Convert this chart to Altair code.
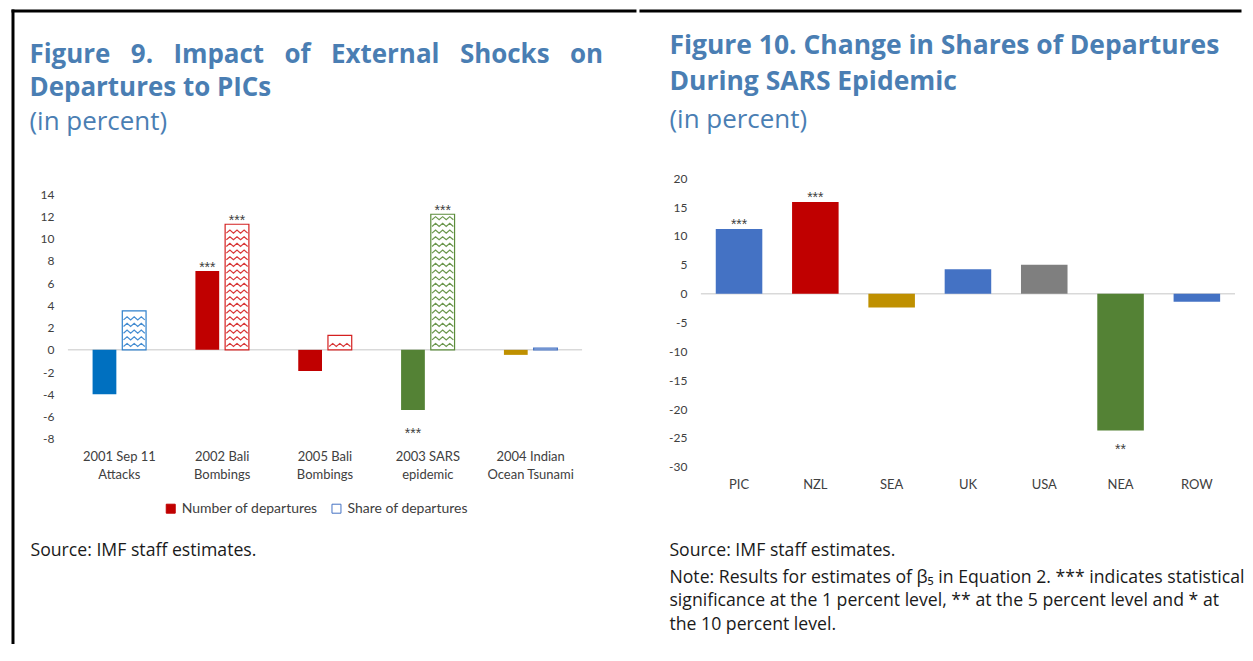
import altair as alt
import pandas as pd

# ---------------- Figure 9 data ----------------
events = ["2001 Sep 11|Attacks", "2002 Bali|Bombings", "2005 Bali|Bombings",
          "2003 SARS|epidemic", "2004 Indian|Ocean Tsunami"]
series = ["Number of departures", "Share of departures"]
number_vals = [-4.0, 7.1, -1.9, -5.4, -0.45]
share_vals = [3.5, 11.3, 1.3, 12.2, 0.15]
number_sig = ["", "***", "", "***", ""]
share_sig = ["", "***", "", "***", ""]
number_colors = ["#0070C0", "#C00000", "#C00000", "#548235", "#BF9000"]
share_colors = ["#2F80CC", "#D42020", "#D42020", "#5B8C3A", "#4472C4"]
fig9_ticks = [-8, -6, -4, -2, 0, 2, 4, 6, 8, 10, 12, 14]

# ---------------- Figure 10 data ----------------
regions = ["PIC", "NZL", "SEA", "UK", "USA", "NEA", "ROW"]
region_vals = [11.2, 15.9, -2.4, 4.25, 5.0, -23.7, -1.4]
region_sig = ["***", "***", "", "", "", "**", ""]
region_colors = ["#4472C4", "#C00000", "#BF9000", "#4472C4", "#7F7F7F", "#548235", "#4472C4"]
fig10_ticks = [-30, -25, -20, -15, -10, -5, 0, 5, 10, 15, 20]

TITLE_BLUE = "#4A7EB3"
TXT = "#404040"
AX_FONT = "Lato"
STAR_FONT = "Liberation Sans"
FOOT_FONT = "Open Sans"
TITLE_FONT = "Open Sans"
GAP = "\u00a0\u2009\u200a "
FOOT_SIZE = 17.7

# ---------------- Figure 9 ----------------
# both panels share the plot top; Figure 9's axis starts 16px lower, so its
# value domain extends a little above the last tick
W9, H9_core = 515, 245
px_unit = H9_core / (fig9_ticks[-1] - fig9_ticks[0])
H9 = H9_core + 16
y9_top = fig9_ticks[-1] + 16 / px_unit
pI, pO, pIo = 0.48, 0.24, 0.2

df9 = pd.DataFrame({
    "event": events * 2,
    "series": [series[0]] * 5 + [series[1]] * 5,
    "value": number_vals + share_vals,
    "sig": number_sig + share_sig,
    "color": number_colors + share_colors,
})
num9 = df9[df9.series == series[0]]
shr9 = df9[df9.series == series[1]]

x9 = alt.X("event:N", sort=events, title=None,
           scale=alt.Scale(paddingInner=pI, paddingOuter=pO),
           axis=alt.Axis(labelExpr="split(datum.label, '|')", labelAngle=0,
                         domain=False, ticks=False, grid=False, labelPadding=12,
                         labelLineHeight=18, labelFont=AX_FONT, labelFontSize=13,
                         labelColor=TXT))
xo9 = alt.XOffset("series:N", sort=series,
                  scale=alt.Scale(domain=series, paddingInner=pIo, paddingOuter=0))
y9_scale = alt.Scale(domain=[fig9_ticks[0], y9_top], nice=False)
y9_axis = alt.Axis(values=fig9_ticks, domain=False, ticks=False, grid=False,
                   labelOverlap=False, labelPadding=14, labelFont=AX_FONT,
                   labelFontSize=12, labelColor=TXT, labelExpr="toString(datum.value)")
y9 = alt.Y("value:Q", title=None, scale=y9_scale, axis=y9_axis)

zero9 = alt.Chart(pd.DataFrame({"value": [0]})).mark_rule(color="#D9D9D9", strokeWidth=1.5).encode(
    y=y9)
num_bars = alt.Chart(num9).mark_bar().encode(
    x=x9, xOffset=xo9, y=y9, fill=alt.Fill("color:N", scale=None))
shr_bars = alt.Chart(shr9).mark_bar(fill="white", strokeWidth=1.2).encode(
    x=x9, xOffset=xo9, y=y9, stroke=alt.Stroke("color:N", scale=None))
stars_pos9 = alt.Chart(df9).transform_filter("datum.value > 0 && datum.sig != ''").mark_text(
    baseline="alphabetic", dy=1, font=STAR_FONT, fontSize=14, color=TXT).encode(
    x=x9, xOffset=xo9, y=y9, text="sig:N")
stars_neg9 = alt.Chart(df9).transform_filter("datum.value < 0 && datum.sig != ''").mark_text(
    baseline="alphabetic", dy=28, font=STAR_FONT, fontSize=14, color=TXT).encode(
    x=x9, xOffset=xo9, y=y9, text="sig:N")

leg_props = dict(orient="none", legendX=96, legendY=324, direction="horizontal",
                 title=None, symbolType="square", symbolSize=81, symbolOpacity=1,
                 symbolStrokeWidth=1,
                 labelFont=AX_FONT, labelFontSize=14, labelColor=TXT,
                 columnPadding=11, labelOffset=4)
legend9 = alt.Chart(pd.DataFrame({"series": series})).mark_square(opacity=0, size=1).encode(
    x=alt.value(0), y=alt.value(0),
    fill=alt.Fill("series:N", scale=alt.Scale(domain=series, range=[number_colors[1], "#FFFFFF"]),
                  legend=alt.Legend(**leg_props)),
    stroke=alt.Stroke("series:N", scale=alt.Scale(domain=series, range=[number_colors[1], share_colors[4]]),
                      legend=alt.Legend(**leg_props)))

# zigzag fill pattern for the share bars (derived from the share values)
bw = 1 - pI
off_step = bw / (2 - pIo)
s_start = pO + off_step
s_end = s_start + off_step * (1 - pIo)
amp, gap, nseg = 0.28, 0.6, 6
zz = []
for i, (v, c) in enumerate(zip(share_vals, share_colors)):
    x0, x1 = i + s_start + 0.012, i + s_end - 0.012
    base, rid = 0.3, 0
    while base + amp + 0.15 < v:
        for k in range(nseg + 1):
            zz.append({"zx": x0 + (x1 - x0) * k / nseg,
                       "value": base + (amp if k % 2 == 1 else 0),
                       "row": f"{i}-{rid}", "color": c})
        base += gap
        rid += 1
pattern9 = alt.Chart(pd.DataFrame(zz)).mark_line(strokeWidth=1.2, opacity=0.9).encode(
    x=alt.X("zx:Q", scale=alt.Scale(domain=[0, len(events)], nice=False, zero=False), axis=None),
    y=y9, detail="row:N", stroke=alt.Stroke("color:N", scale=None))

title9_l1 = GAP.join(["Figure", "9.", "Impact", "of", "External", "Shocks", "on"])
title9 = alt.Chart(pd.DataFrame({"t": [title9_l1 + "\nDepartures to PICs"]})).mark_text(
    align="left", baseline="alphabetic", lineBreak="\n", lineHeight=32.5, font=TITLE_FONT,
    fontSize=26, fontWeight="bold", color=TITLE_BLUE).encode(
    x=alt.value(-38.5), y=alt.value(-115), text="t:N")
sub9 = alt.Chart(pd.DataFrame({"t": ["(in percent)"]})).mark_text(
    align="left", baseline="alphabetic", font=TITLE_FONT, fontSize=26, color=TITLE_BLUE).encode(
    x=alt.value(-38.5), y=alt.value(-48), text="t:N")
foot9 = alt.Chart(pd.DataFrame({"t": ["Source: IMF staff estimates."]})).mark_text(
    align="left", baseline="alphabetic", font=FOOT_FONT, fontSize=FOOT_SIZE, color="#1a1a1a").encode(
    x=alt.value(-37.5), y=alt.value(378), text="t:N")
border = pd.DataFrame({"b": [1]})
top9 = alt.Chart(border).mark_rule(color="black", strokeWidth=3, strokeCap="square").encode(
    x=alt.value(-55), x2=alt.value(568), y=alt.value(-167.5))
left9 = alt.Chart(border).mark_rule(color="black", strokeWidth=3, strokeCap="square").encode(
    x=alt.value(-55), y=alt.value(-167.5), y2=alt.value(465))

inner9 = alt.layer(zero9, num_bars, shr_bars, stars_pos9, stars_neg9, legend9)
fig9 = alt.layer(inner9, pattern9, title9, sub9, foot9, top9, left9).resolve_scale(
    x="independent").properties(width=W9, height=H9)

# ---------------- Figure 10 ----------------
W10, H10 = 535, 289
df10 = pd.DataFrame({"region": regions, "value": region_vals, "sig": region_sig,
                     "color": region_colors})
x10 = alt.X("region:N", sort=regions, title=None,
            scale=alt.Scale(paddingInner=0.39, paddingOuter=0.195),
            axis=alt.Axis(labelAngle=0, domain=False, ticks=False, grid=False, labelPadding=12,
                          labelFont=AX_FONT, labelFontSize=13, labelColor=TXT))
y10 = alt.Y("value:Q", title=None,
            scale=alt.Scale(domain=[fig10_ticks[0], fig10_ticks[-1]], nice=False),
            axis=alt.Axis(values=fig10_ticks, domain=False, ticks=False, grid=False,
                          labelOverlap=False, labelPadding=14, labelFont=AX_FONT,
                          labelFontSize=12, labelColor=TXT, labelExpr="toString(datum.value)"))
zero10 = alt.Chart(pd.DataFrame({"value": [0]})).mark_rule(color="#D9D9D9", strokeWidth=1.5).encode(
    y=y10)
bars10 = alt.Chart(df10).mark_bar().encode(x=x10, y=y10, fill=alt.Fill("color:N", scale=None))
stars_pos10 = alt.Chart(df10).transform_filter("datum.value > 0 && datum.sig != ''").mark_text(
    baseline="alphabetic", dy=0, font=STAR_FONT, fontSize=14, color=TXT).encode(
    x=x10, y=y10, text="sig:N")
stars_neg10 = alt.Chart(df10).transform_filter("datum.value < 0 && datum.sig != ''").mark_text(
    baseline="alphabetic", dy=23.5, font=STAR_FONT, fontSize=14, color=TXT).encode(
    x=x10, y=y10, text="sig:N")
title10 = alt.Chart(pd.DataFrame({"t": [
    "Figure 10. Change in Shares of Departures\nDuring SARS Epidemic"]})).mark_text(
    align="left", baseline="alphabetic", lineBreak="\n", lineHeight=36, font=TITLE_FONT,
    fontSize=26.5, fontWeight="bold", color=TITLE_BLUE).encode(
    x=alt.value(-31.5), y=alt.value(-124), text="t:N")
sub10 = alt.Chart(pd.DataFrame({"t": ["(in percent)"]})).mark_text(
    align="left", baseline="alphabetic", font=TITLE_FONT, fontSize=26, color=TITLE_BLUE).encode(
    x=alt.value(-31.5), y=alt.value(-50), text="t:N")
src10 = alt.Chart(pd.DataFrame({"t": ["Source: IMF staff estimates."]})).mark_text(
    align="left", baseline="alphabetic", font=FOOT_FONT, fontSize=FOOT_SIZE, color="#1a1a1a").encode(
    x=alt.value(-31.5), y=alt.value(378), text="t:N")
note10 = alt.Chart(pd.DataFrame({"t": [
    "Note: Results for estimates of \u03b2\u2085 in Equation 2. *** indicates statistical\n"
    "significance at the 1 percent level, ** at the 5 percent level and * at\n"
    "the 10 percent level."]})).mark_text(
    align="left", baseline="alphabetic", lineBreak="\n", lineHeight=23.5, font=FOOT_FONT,
    fontSize=FOOT_SIZE, color="#1a1a1a").encode(
    x=alt.value(-31.5), y=alt.value(405), text="t:N")
top10 = alt.Chart(border).mark_rule(color="black", strokeWidth=3, strokeCap="square").encode(
    x=alt.value(-60), x2=alt.value(540), y=alt.value(-167.5))

fig10 = alt.layer(zero10, bars10, stars_pos10, stars_neg10, title10, sub10, src10, note10,
                  top10).properties(width=W10, height=H10)

chart = alt.hconcat(fig9, fig10, spacing=0).properties(
    padding={"left": 2, "top": 0, "right": 0, "bottom": 0}
).configure_view(stroke=None)

chart.save("out.html", embed_options={"renderer": "svg", "actions": False})
